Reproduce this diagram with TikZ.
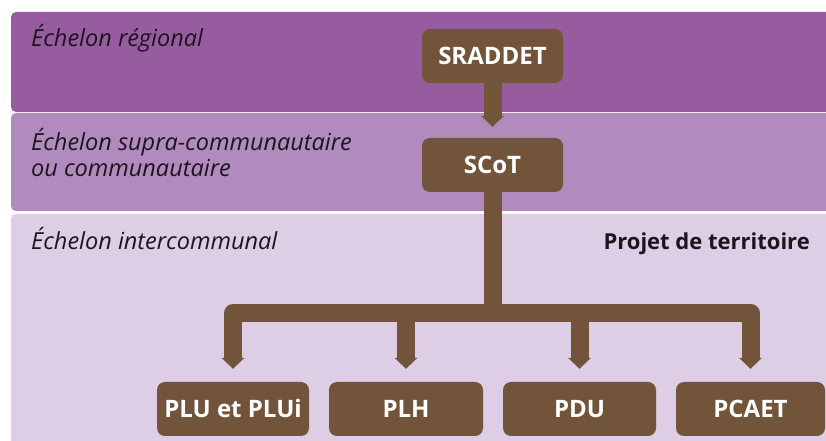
\documentclass[tikz,border=0pt]{standalone}
\usepackage{fontspec}
\setmainfont{Open Sans}
\usetikzlibrary{arrows.meta}
\definecolor{bandA}{RGB}{151,91,159}
\definecolor{bandB}{RGB}{178,139,190}
\definecolor{bandC}{RGB}{221,205,229}
\definecolor{brownc}{RGB}{114,84,58}
\definecolor{textc}{RGB}{26,22,28}
\begin{document}
\begin{tikzpicture}[x=1pt,y=1pt,
  box/.style={fill=brownc, rounded corners=8pt, text=white,
    font=\bfseries\fontsize{24}{28}\selectfont, minimum height=54pt, inner sep=0pt},
  lbl/.style={anchor=base west, font=\itshape\fontsize{23.5}{26}\selectfont,
    text=textc, inner sep=0pt, align=left},
  conn/.style={draw=brownc, line width=18pt, line join=round,
    -{Triangle[width=23pt,length=11pt,line width=0pt]}, shorten >=13pt}]
\useasboundingbox (0,0) rectangle (826,441);
\clip (0,0) rectangle (826,441);
% bands
\fill[bandA, rounded corners=5pt] (11,329) rectangle (850,429);
\fill[bandB, rounded corners=5pt] (11,230) rectangle (850,328);
\fill[bandC, rounded corners=5pt] (11,-20) rectangle (850,227);
% labels
\node[lbl] (l1) at (31,394.3) {Échelon régional};
\node[lbl] (l2) at (31,264.5) {Échelon supra-communautaire\\ou communautaire};
\node[lbl] (l3) at (31,191) {Échelon intercommunal};
\node[anchor=base east, inner sep=0pt, text=textc,
  font=\bfseries\fontsize{22}{26}\selectfont] (proj) at (810,191) {Projet de territoire};
% boxes
\node[box, minimum width=141pt] (sraddet) at (492.5,385) {SRADDET};
\node[box, minimum width=141pt] (scot) at (492.5,276) {SCoT};
\node[box, minimum width=152pt] (plu) at (233,32) {PLU et PLUi};
\node[box, minimum width=154pt] (plh) at (406,32) {PLH};
\node[box, minimum width=153pt] (pdu) at (579.5,32) {PDU};
\node[box, minimum width=149pt] (pcaet) at (750.5,32) {PCAET};
% connectors
\coordinate (bar) at (0,128);
\draw[conn, shorten >=11pt] (sraddet) -- (scot);
\draw[conn] (scot.south) |- (plu.north |- bar) -- (plu.north);
\draw[conn] (scot.south) |- (plh.north |- bar) -- (plh.north);
\draw[conn] (scot.south) |- (pdu.north |- bar) -- (pdu.north);
\draw[conn] (scot.south) |- (pcaet.north |- bar) -- (pcaet.north);
\end{tikzpicture}
\end{document}
